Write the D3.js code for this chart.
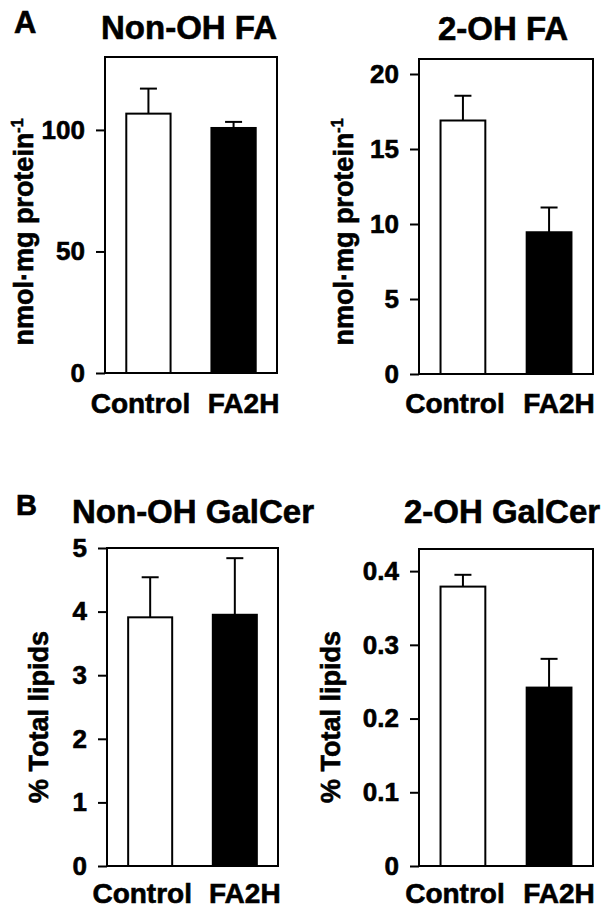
<!DOCTYPE html>
<html>
<head>
<meta charset="utf-8">
<script src="https://cdn.jsdelivr.net/npm/d3@7"></script>
<style>
  html, body { margin: 0; padding: 0; background: #fff; }
  svg text { font-family: Arial, "Liberation Sans", Helvetica, sans-serif !important; font-weight: bold !important; fill: #000; stroke: #000; stroke-width: 0.6px; }
  .tick text { font-size: 26px !important; }
</style>
</head>
<body>
<svg id="chart" width="609" height="917"></svg>
<script>
// ---- data ----
const categories = ["Control", "FA2H"];
const panelTitles = ["Non-OH FA", "2-OH FA", "Non-OH GalCer", "2-OH GalCer"];
const panelLetters = ["A", "B"];
const yTitleFA = "nmol·mg protein";
const yTitleFASup = "-1";
const yTitleGalCer = "% Total lipids";

const nonOhFaMeans = [106.7, 100.8];
const nonOhFaErrors = [10.3, 2.5];
const nonOhFaTicks = [0, 50, 100];
const nonOhFaMax = 130;

const twoOhFaMeans = [16.9, 9.45];
const twoOhFaErrors = [1.65, 1.65];
const twoOhFaTicks = [0, 5, 10, 15, 20];
const twoOhFaMax = 21;

const nonOhGalCerMeans = [3.91, 3.95];
const nonOhGalCerErrors = [0.63, 0.89];
const nonOhGalCerTicks = [0, 1, 2, 3, 4, 5];
const nonOhGalCerMax = 5;

const twoOhGalCerMeans = [0.379, 0.242];
const twoOhGalCerErrors = [0.016, 0.039];
const twoOhGalCerTicks = [0, 0.1, 0.2, 0.3, 0.4];
const twoOhGalCerTickLabels = ["0", "0.1", "0.2", "0.3", "0.4"];
const twoOhGalCerMax = 0.43;

const barFills = ["#ffffff", "#000000"];

// ---- layout ----
const svg = d3.select("#chart");

const panels = [
  { title: panelTitles[0], means: nonOhFaMeans, errs: nonOhFaErrors, ticks: nonOhFaTicks, labels: null, max: nonOhFaMax,
    x0: 105, x1: 277, y0: 57, y1: 373, titleX: 189, titleY: 39, yTitle: "fa", yTitleX: 33, yTitleY: 232, xLabelY: 413 },
  { title: panelTitles[1], means: twoOhFaMeans, errs: twoOhFaErrors, ticks: twoOhFaTicks, labels: null, max: twoOhFaMax,
    x0: 419, x1: 593, y0: 59, y1: 374, titleX: 503, titleY: 40, yTitle: "fa", yTitleX: 353, yTitleY: 232, xLabelY: 413 },
  { title: panelTitles[2], means: nonOhGalCerMeans, errs: nonOhGalCerErrors, ticks: nonOhGalCerTicks, labels: null, max: nonOhGalCerMax,
    x0: 107, x1: 278, y0: 548, y1: 866, titleX: 193, titleY: 523, yTitle: "gc", yTitleX: 48, yTitleY: 717, xLabelY: 903 },
  { title: panelTitles[3], means: twoOhGalCerMeans, errs: twoOhGalCerErrors, ticks: twoOhGalCerTicks, labels: twoOhGalCerTickLabels, max: twoOhGalCerMax,
    x0: 419, x1: 593, y0: 549, y1: 866, titleX: 502, titleY: 523, yTitle: "gc", yTitleX: 340, yTitleY: 717, xLabelY: 903 }
];

// panel letters
svg.append("text").attr("x", 14).attr("y", 33).style("font-size", "31px").text(panelLetters[0]);
svg.append("text").attr("x", 16).attr("y", 515).style("font-size", "29px").text(panelLetters[1]);

panels.forEach(p => {
  const g = svg.append("g");
  const x = d3.scaleBand().domain(categories).range([p.x0, p.x1]).paddingInner(0.48).paddingOuter(0.25);
  const y = d3.scaleLinear().domain([0, p.max]).range([p.y1, p.y0]);

  // bars
  g.selectAll("rect.bar").data(categories).join("rect")
    .attr("class", "bar")
    .attr("x", d => x(d))
    .attr("width", x.bandwidth())
    .attr("y", (d, i) => y(p.means[i]))
    .attr("height", (d, i) => y(0) - y(p.means[i]))
    .attr("fill", (d, i) => barFills[i])
    .attr("stroke", "#000").attr("stroke-width", 2);

  // error bars (upper only)
  const capHalf = 8.5;
  categories.forEach((c, i) => {
    const cx = x(c) + x.bandwidth() / 2;
    g.append("line").attr("x1", cx).attr("x2", cx)
      .attr("y1", y(p.means[i])).attr("y2", y(p.means[i] + p.errs[i]))
      .attr("stroke", "#000").attr("stroke-width", 2);
    g.append("line").attr("x1", cx - capHalf).attr("x2", cx + capHalf)
      .attr("y1", y(p.means[i] + p.errs[i])).attr("y2", y(p.means[i] + p.errs[i]))
      .attr("stroke", "#000").attr("stroke-width", 2);
  });

  // frame
  g.append("rect").attr("x", p.x0).attr("y", p.y0)
    .attr("width", p.x1 - p.x0).attr("height", p.y1 - p.y0)
    .attr("fill", "none").attr("stroke", "#000").attr("stroke-width", 2);

  // y axis
  const axis = d3.axisLeft(y).tickValues(p.ticks).tickSize(9).tickPadding(11)
    .tickFormat((d, i) => p.labels ? p.labels[i] : d3.format("d")(d));
  const ax = g.append("g").attr("transform", `translate(${p.x0},0)`).call(axis);
  ax.attr("font-size", 26).attr("font-weight", "bold").attr("font-family", "Arial, 'Liberation Sans', sans-serif");
  ax.select(".domain").remove();
  ax.selectAll(".tick line").attr("stroke", "#000").attr("stroke-width", 2);
  ax.selectAll(".tick text").attr("fill", "#000");

  // title
  g.append("text").attr("x", p.titleX).attr("y", p.titleY).attr("text-anchor", "middle")
    .style("font-size", "33px").text(p.title);

  // x labels
  const offsets = [-8, 10];
  categories.forEach((c, i) => {
    g.append("text").attr("x", x(c) + x.bandwidth() / 2 + offsets[i]).attr("y", p.xLabelY)
      .attr("text-anchor", "middle").style("font-size", "28px").text(c);
  });

  // y title
  const yt = g.append("text")
    .attr("transform", `translate(${p.yTitleX},${p.yTitleY}) rotate(-90)`)
    .attr("text-anchor", "middle");
  if (p.yTitle === "fa") {
    yt.style("font-size", "27px");
    yt.append("tspan").text(yTitleFA);
    yt.append("tspan").attr("dy", -10).style("font-size", "16px").text(yTitleFASup);
  } else {
    yt.style("font-size", "27px").text(yTitleGalCer);
  }
});
</script>
</body>
</html>
